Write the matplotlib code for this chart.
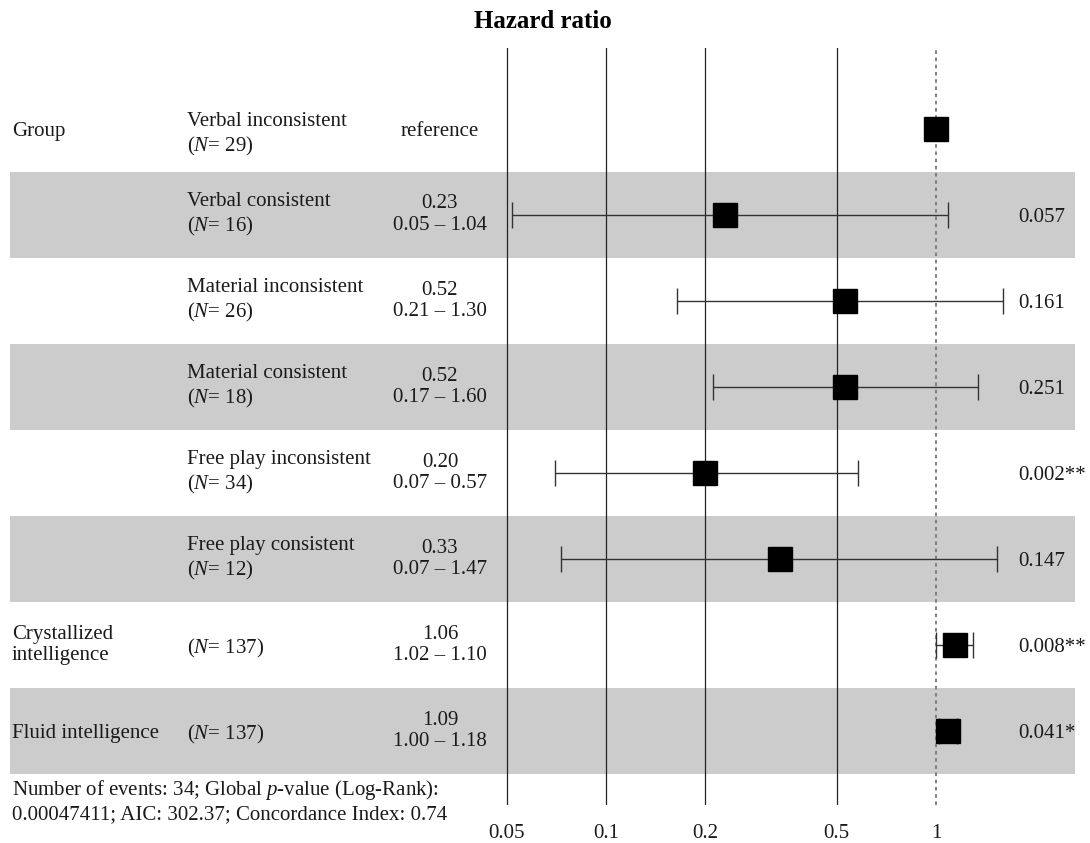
import numpy as np
import matplotlib

matplotlib.use("Agg")
import matplotlib.pyplot as plt  # noqa: E402
from matplotlib import transforms  # noqa: E402
from matplotlib.ticker import NullLocator  # noqa: E402

plt.rcParams["font.family"] = ["Liberation Serif", "DejaVu Serif"]
plt.rcParams["mathtext.fontset"] = "custom"
plt.rcParams["mathtext.rm"] = "Liberation Serif"
plt.rcParams["mathtext.it"] = "Liberation Serif:italic"

# rows, top to bottom
var_names = ["Group", "", "", "", "", "", "Crystallized\nintelligence", "Fluid intelligence"]
levels = ["Verbal inconsistent", "Verbal consistent", "Material inconsistent",
          "Material consistent", "Free play inconsistent", "Free play consistent", "", ""]
n_obs = [29, 16, 26, 18, 34, 12, 137, 137]
hr_text = ["reference", "0.23", "0.52", "0.52", "0.20", "0.33", "1.06", "1.09"]
ci_text = ["", "0.05 – 1.04", "0.21 – 1.30", "0.17 – 1.60", "0.07 – 0.57",
           "0.07 – 1.47", "1.02 – 1.10", "1.00 – 1.18"]
p_text = ["", "0.057", "0.161", "0.251", "0.002**", "0.147", "0.008**", "0.041*"]

# positions of the marks as drawn in the picture
hr = [1.0, 0.23, 0.53, 0.53, 0.20, 0.336, 1.14, 1.09]
ci_lo = [np.nan, 0.052, 0.164, 0.211, 0.070, 0.073, 1.0, 1.02]
ci_hi = [np.nan, 1.085, 1.59, 1.34, 0.579, 1.526, 1.294, 1.16]

breaks = [0.05, 0.1, 0.2, 0.5, 1]
break_labels = ["0.05", "0.1", "0.2", "0.5", "1"]

W, H = 1090, 843
fig = plt.figure(figsize=(W / 100, H / 100), dpi=100)
ax = fig.add_axes([10 / W, 1 - 805 / H, 1065 / W, 757 / H])

rows = np.arange(1, len(hr) + 1)
ax.set_xscale("log")
px_per_dec = 330.5
ax.set_xlim(0.05 * 10 ** (-(507 - 10) / px_per_dec), 10 ** ((1075 - 936) / px_per_dec))
ax.set_ylim(8.86, 0.06)

for r in rows[1::2]:
    ax.axhspan(r - 0.5, r + 0.5, color="#cccccc", lw=0, zorder=0)

for b in breaks[:-1]:
    ax.axvline(b, color="#222222", lw=0.9, zorder=1)
ax.axvline(1, color="#777777", lw=1.3, ls=(0, (2, 2)), zorder=1)

hr_a = np.array(hr)
lo = np.array(ci_lo)
hi = np.array(ci_hi)
ax.errorbar(hr_a, rows, xerr=[hr_a - lo, hi - hr_a], fmt="none", ecolor="#333333",
            elinewidth=1.0, capsize=9.5, capthick=1.0, zorder=2)
ax.plot(hr, rows, "s", color="black", ms=17.5, zorder=3)

ax.set_xticks(breaks)
ax.set_xticklabels(break_labels)
ax.xaxis.set_minor_locator(NullLocator())
ax.tick_params(axis="x", length=0, pad=14, labelsize=15, labelcolor="#1a1a1a")
ax.set_yticks([])
for s in ax.spines.values():
    s.set_visible(False)

tr = transforms.blended_transform_factory(fig.transFigure, ax.transData)
fs = 15
txt = dict(transform=tr, fontsize=fs, color="#1a1a1a", linespacing=1.2)


def put(x, y, s, ha="left"):
    va = "center" if "\n" in s else "center_baseline"
    fig.text(x / W, y, s, ha=ha, va=va, multialignment=ha, **txt)


for i, r in enumerate(rows):
    if var_names[i]:
        put(12, r, var_names[i])
    n_lab = f"($\\mathit{{N}}$= {n_obs[i]})"
    # first level line sits a little low in the reference table
    put(187, r + (0.07 if i == 0 else 0), f"{levels[i]}\n{n_lab}" if levels[i] else n_lab)
    put(440, r, f"{hr_text[i]}\n{ci_text[i]}" if ci_text[i] else hr_text[i], ha="center")
    if p_text[i]:
        put(1018, r, p_text[i])

fig.text(543 / W, 1 - 22 / H, "Hazard ratio", ha="center", va="center",
         fontsize=18, fontweight="bold")
fig.text(12 / W, 1 - 801 / H,
         "Number of events: 34; Global $p$-value (Log-Rank):\n"
         "0.00047411; AIC: 302.37; Concordance Index: 0.74",
         ha="left", va="center", fontsize=fs, color="#1a1a1a", linespacing=1.2)

fig.savefig("out.png", dpi=100)
